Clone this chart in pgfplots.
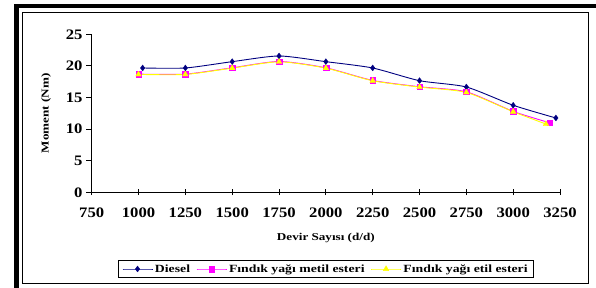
\documentclass[border=0pt]{standalone}
\usepackage{fontspec}
\setmainfont{Liberation Serif}
\newfontfamily\tickfont[FakeStretch=1.15]{Liberation Serif}
\newfontfamily\labfont[FakeStretch=1.25]{Liberation Serif}
\usepackage{pgfplots}
\pgfplotsset{compat=1.18}
\definecolor{dnavy}{RGB}{0,0,128}
\definecolor{dmag}{RGB}{255,0,255}
\definecolor{dyel}{RGB}{255,255,0}
\begin{document}
\begin{tikzpicture}[x=1pt,y=1pt]
\useasboundingbox (0,0) rectangle (596,288);
\fill[black] (14,279.7) rectangle (596,284);
\fill[black] (14,0) rectangle (19.3,284);
\draw[line width=0.9pt] (22.7,5) rectangle (588.5,276);
\begin{axis}[
  at={(91.7pt,95.7pt)}, anchor=south west,
  scale only axis, width=468.3pt, height=158pt,
  xmin=750, xmax=3250, ymin=0, ymax=25,
  axis x line*=bottom, axis y line*=left,
  axis line style={line width=0.8pt, black, -},
  xtick={750,1000,...,3250}, ytick={0,5,...,25},
  xtick align=center, ytick align=outside,
  major tick length=5.7pt,
  tick style={line width=0.8pt, black},
  /pgf/number format/1000 sep={},
  /pgf/number format/assume math mode=true,
  ticklabel style={font=\tickfont\bfseries\fontsize{14.5}{16}\selectfont},
  xticklabel style={yshift=-9pt},
  xlabel={Devir Sayısı (d/d)},
  ylabel={Moment (Nm)},
  xlabel style={font=\labfont\bfseries\fontsize{10.5}{12}\selectfont, at={(axis description cs:0.5,-0.289)}, anchor=center},
  ylabel style={font=\labfont\bfseries\fontsize{10.5}{12}\selectfont, at={(axis description cs:-0.0976,0.5)}, anchor=center},
  legend columns=3,
  legend style={at={(axis description cs:0.5,-0.4854)}, anchor=center, draw=black, line width=0.8pt,
    font=\labfont\bfseries\fontsize{11}{13}\selectfont, inner xsep=4pt, inner ysep=2pt,
    /tikz/every even column/.append style={column sep=4pt}},
  legend image code/.code={\draw[mark repeat=2,mark phase=2,#1] plot coordinates {(0pt,0pt) (15pt,0pt) (30pt,0pt)};},
]
\addplot[color=dnavy, line width=0.9pt, smooth, tension=0.4, mark=diamond*, mark size=3pt, mark options={fill=dnavy, draw=dnavy, line width=0.3pt}]
 coordinates {(1022,19.67)(1250,19.67)(1500,20.67)(1750,21.57)(2000,20.67)(2250,19.67)(2500,17.66)(2750,16.66)(3000,13.77)(3228,11.76)};
\addlegendentry{Diesel}
\addplot[color=dmag, line width=0.9pt, smooth, tension=0.4, mark=square*, mark size=2.8pt, mark options={fill=dmag, draw=dmag, line width=0.3pt}]
 coordinates {(1000,18.7)(1250,18.7)(1500,19.7)(1750,20.7)(2000,19.7)(2250,17.7)(2500,16.7)(2750,15.9)(3000,12.8)(3195,11.0)};
\addlegendentry{Fındık yağı metil esteri}
\addplot[color=dyel, line width=0.9pt, smooth, tension=0.4, mark=triangle*, mark size=3.3pt, mark options={fill=dyel, draw=dyel, line width=0.3pt}]
 coordinates {(1000,18.65)(1250,18.65)(1500,19.65)(1750,20.65)(2000,19.65)(2250,17.65)(2500,16.65)(2750,15.8)(3000,12.75)(3175,10.8)};
\addlegendentry{Fındık yağı etil esteri}
\end{axis}
\end{tikzpicture}
\end{document}
